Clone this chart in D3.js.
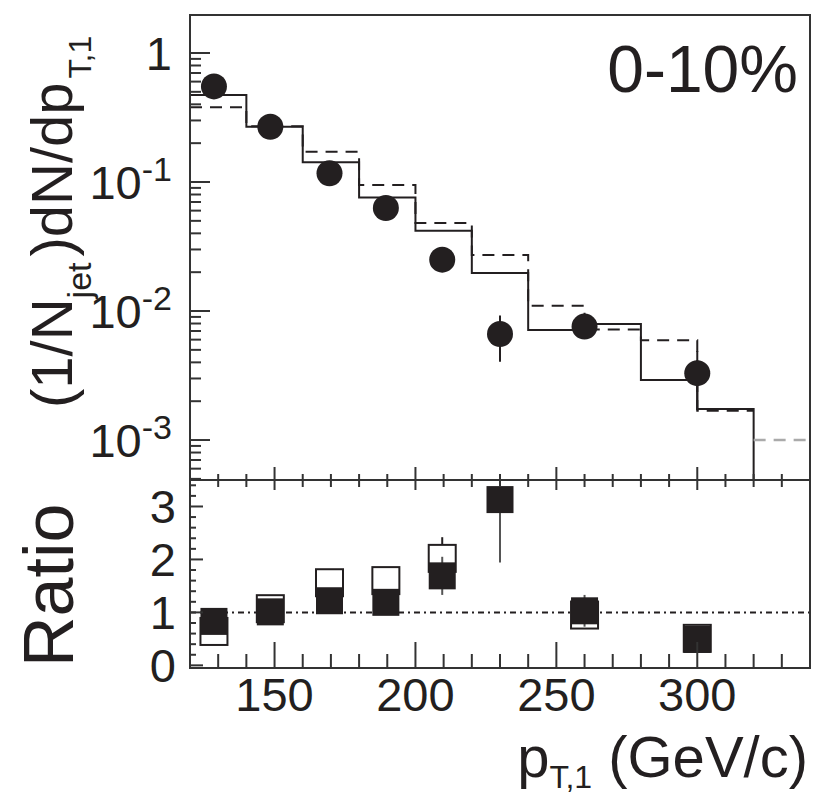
<!DOCTYPE html>
<html>
<head>
<meta charset="utf-8">
<script src="https://cdn.jsdelivr.net/npm/d3@7"></script>
<style>
  html, body { margin: 0; padding: 0; background: #fff; }
  svg { display: block; font-family: "Liberation Sans", Arial, Helvetica, sans-serif; }
</style>
</head>
<body>
<svg id="chart" width="813" height="796"></svg>
<script>
// Leading-jet pT spectrum, 0-10% centrality, with ratio panel.

// Bin edges shared by the two simulation histograms (GeV/c)
const binEdges = [120, 140, 160, 180, 200, 220, 240, 260, 280, 300, 320];
// Solid histogram, per bin
const solidHist = [0.472, 0.268, 0.142, 0.0760, 0.0419, 0.0197, 0.00713, 0.00794, 0.00292, 0.00174];
// Dashed histogram, per bin
const dashedHist = [0.379, 0.271, 0.1715, 0.0946, 0.0481, 0.0272, 0.0110, 0.00718, 0.00594, 0.00169];
// Grey dashed tail beyond the last bin
const tailEdges = [320, 340];
const tailHist = [0.00100];

// Data points (filled circles)
const dataPt = [128.5, 148.5, 169.5, 189.5, 209.5, 230, 260, 300];
const dataVal = [0.551, 0.268, 0.117, 0.0629, 0.0250, 0.00664, 0.00757, 0.00330];
const dataErr = [0.02, 0.01, 0.005, 0.003, 0.0015, 0.0026, 0.0012, 0.0016];

// Ratio panel
const ratioFilled = [0.83, 1.01, 1.22, 1.19, 1.69, 3.13, 1.03, 0.49];
const ratioFilledErr = [0.1, 0.08, 0.1, 0.1, 0.36, 1.19, 0.3, 0.2];
const ratioOpen = [0.64, 1.07, 1.56, 1.60, 2.02, null, 0.95, 0.51];
const ratioOpenErr = [0.1, 0.08, 0.12, 0.12, 0.4, null, 0.1, 0.2];

// Axis ticks
const xMajorTicks = [150, 200, 250, 300];
const xTickLabels = ["150", "200", "250", "300"];
const yLogDecades = [0, -1, -2, -3];
const yLogLabels = [["1", ""], ["10", "-1"], ["10", "-2"], ["10", "-3"]];
const ratioMajorTicks = [0, 1, 2, 3];
const ratioTickLabels = ["0", "1", "2", "3"];

const ink = "#231f20";
const svg = d3.select("#chart");

const L = 190, R = 810, T = 15, M = 480, B = 668;

const x = d3.scaleLinear().domain([120, 340]).range([L, R]);
const y = d3.scaleLog().domain([4.9e-4, 1.97]).range([M, T]);
const yr = d3.scaleLinear().domain([-0.05, 3.5]).range([B, M]);

const defs = svg.append("defs");
defs.append("clipPath").attr("id", "clipTop")
  .append("rect").attr("x", L).attr("y", T).attr("width", R - L).attr("height", M - T);
defs.append("clipPath").attr("id", "clipBot")
  .append("rect").attr("x", L).attr("y", M).attr("width", R - L).attr("height", B - M);

// ---------- upper panel ----------
const upper = svg.append("g").attr("clip-path", "url(#clipTop)");

function stepPts(edges, vals) {
  const pts = vals.map((v, i) => [edges[i], v]);
  pts.push([edges[vals.length], vals[vals.length - 1]]);
  return pts;
}
const stepLine = d3.line().x(d => x(d[0])).y(d => y(d[1])).curve(d3.curveStepAfter);

const solidPts = stepPts(binEdges, solidHist);
solidPts.push([binEdges[binEdges.length - 1], y.domain()[0]]);
upper.append("path").attr("d", stepLine(solidPts))
  .attr("fill", "none").attr("stroke", ink).attr("stroke-width", 2);

upper.append("path").attr("d", stepLine(stepPts(binEdges, dashedHist)))
  .attr("fill", "none").attr("stroke", ink).attr("stroke-width", 2)
  .attr("stroke-dasharray", "12,8");

upper.append("path").attr("d", stepLine(stepPts(tailEdges, tailHist)))
  .attr("fill", "none").attr("stroke", "#aaaaaa").attr("stroke-width", 2.5)
  .attr("stroke-dasharray", "12,8");

upper.selectAll("line.err").data(dataPt).join("line")
  .attr("x1", d => x(d)).attr("x2", d => x(d))
  .attr("y1", (d, i) => y(dataVal[i] + dataErr[i]))
  .attr("y2", (d, i) => y(dataVal[i] - dataErr[i]))
  .attr("stroke", ink).attr("stroke-width", 2);

upper.selectAll("circle").data(dataPt).join("circle")
  .attr("cx", d => x(d)).attr("cy", (d, i) => y(dataVal[i]))
  .attr("r", 13).attr("fill", ink);

// ---------- ratio panel ----------
const lower = svg.append("g").attr("clip-path", "url(#clipBot)");

lower.append("line").attr("x1", L).attr("x2", R).attr("y1", yr(1)).attr("y2", yr(1))
  .attr("stroke", ink).attr("stroke-width", 2).attr("stroke-dasharray", "6,4,2,4");

const sq = 27;
const openIdx = dataPt.map((d, i) => i).filter(i => ratioOpen[i] != null);

lower.selectAll("line.oerr").data(openIdx).join("line")
  .attr("x1", i => x(dataPt[i])).attr("x2", i => x(dataPt[i]))
  .attr("y1", i => yr(ratioOpen[i] + ratioOpenErr[i]))
  .attr("y2", i => yr(ratioOpen[i] - ratioOpenErr[i]))
  .attr("stroke", ink).attr("stroke-width", 2);

lower.selectAll("rect.open").data(openIdx).join("rect")
  .attr("x", i => x(dataPt[i]) - sq / 2).attr("y", i => yr(ratioOpen[i]) - sq / 2)
  .attr("width", sq).attr("height", sq)
  .attr("fill", "#fff").attr("stroke", ink).attr("stroke-width", 2);

lower.selectAll("line.ferr").data(dataPt).join("line")
  .attr("x1", d => x(d)).attr("x2", d => x(d))
  .attr("y1", (d, i) => yr(ratioFilled[i] + ratioFilledErr[i]))
  .attr("y2", (d, i) => yr(ratioFilled[i] - ratioFilledErr[i]))
  .attr("stroke", "#555").attr("stroke-width", 2);

lower.selectAll("rect.fill").data(dataPt).join("rect")
  .attr("x", d => x(d) - sq / 2).attr("y", (d, i) => yr(ratioFilled[i]) - sq / 2)
  .attr("width", sq).attr("height", sq).attr("fill", ink);

// ---------- frames ----------
const frame = svg.append("g").attr("fill", "none").attr("stroke", "#333").attr("stroke-width", 2);
frame.append("rect").attr("x", L).attr("y", T).attr("width", R - L).attr("height", M - T);
frame.append("rect").attr("x", L).attr("y", M).attr("width", R - L).attr("height", B - M);

// ---------- ticks ----------
const ticks = svg.append("g").attr("stroke", "#333").attr("stroke-width", 2);
const xAll = d3.range(130, 341, 10);
xAll.forEach(v => {
  const major = xMajorTicks.includes(v);
  // bottom edge of upper panel (pointing up)
  ticks.append("line").attr("x1", x(v)).attr("x2", x(v)).attr("y1", M).attr("y2", M - (major ? 13 : 6));
  // top edge of ratio panel (pointing down)
  ticks.append("line").attr("x1", x(v)).attr("x2", x(v)).attr("y1", M).attr("y2", M + (major ? 10 : 7));
  // bottom axis
  ticks.append("line").attr("x1", x(v)).attr("x2", x(v)).attr("y1", B).attr("y2", B - (major ? 26 : 14));
});

// log ticks on upper panel
const yDom = y.domain();
for (let e = -4; e <= 0; e++) {
  for (let k = 1; k <= 9; k++) {
    const v = k * Math.pow(10, e);
    if (v < yDom[0] || v > yDom[1]) continue;
    ticks.append("line").attr("x1", L).attr("x2", L + (k === 1 ? 20 : 11))
      .attr("y1", y(v)).attr("y2", y(v));
  }
}
// ratio ticks
d3.range(0, 3.5, 0.2).forEach(v => {
  const major = Math.abs(v - Math.round(v)) < 1e-6;
  ticks.append("line").attr("x1", L).attr("x2", L + (major ? 13 : 6))
    .attr("y1", yr(v)).attr("y2", yr(v));
});

// ---------- labels ----------
const txt = svg.append("g").attr("fill", ink);

yLogDecades.forEach((e, i) => {
  const t = txt.append("text").attr("x", 172).attr("y", y(Math.pow(10, e)) + 17)
    .attr("text-anchor", "end").attr("font-size", 47);
  t.append("tspan").text(yLogLabels[i][0]);
  if (yLogLabels[i][1]) {
    t.append("tspan").attr("font-size", 34).attr("dy", -18).text(yLogLabels[i][1]);
  }
});

ratioMajorTicks.forEach((v, i) => {
  txt.append("text").attr("x", 176).attr("y", yr(v) + 17)
    .attr("text-anchor", "end").attr("font-size", 47).text(ratioTickLabels[i]);
});

xMajorTicks.forEach((v, i) => {
  txt.append("text").attr("x", x(v)).attr("y", 711)
    .attr("text-anchor", "middle").attr("font-size", 47).text(xTickLabels[i]);
});

// x title
const xt = txt.append("text").attr("x", 808).attr("y", 777)
  .attr("text-anchor", "end").attr("font-size", 58);
xt.append("tspan").text("p");
xt.append("tspan").attr("font-size", 32).attr("dy", 11).text("T,1");
xt.append("tspan").attr("dy", -11).text(" (GeV/c)");

// y title (upper panel)
const yt = txt.append("text").attr("transform", "translate(72,408) rotate(-90)")
  .attr("font-size", 58);
yt.append("tspan").text("(1/N");
yt.append("tspan").attr("font-size", 34).attr("dy", 19).text("jet");
yt.append("tspan").attr("dy", -19).attr("dx", 6).text(")dN/dp");
yt.append("tspan").attr("font-size", 32).attr("dy", 19).attr("dx", 4).text("T,1");

// y title (ratio panel)
txt.append("text").attr("transform", "translate(73,667) rotate(-90)")
  .attr("font-size", 70).text("Ratio");

// centrality label
txt.append("text").attr("x", 798).attr("y", 92).attr("text-anchor", "end")
  .attr("font-size", 66).text("0-10%");
</script>
</body>
</html>
